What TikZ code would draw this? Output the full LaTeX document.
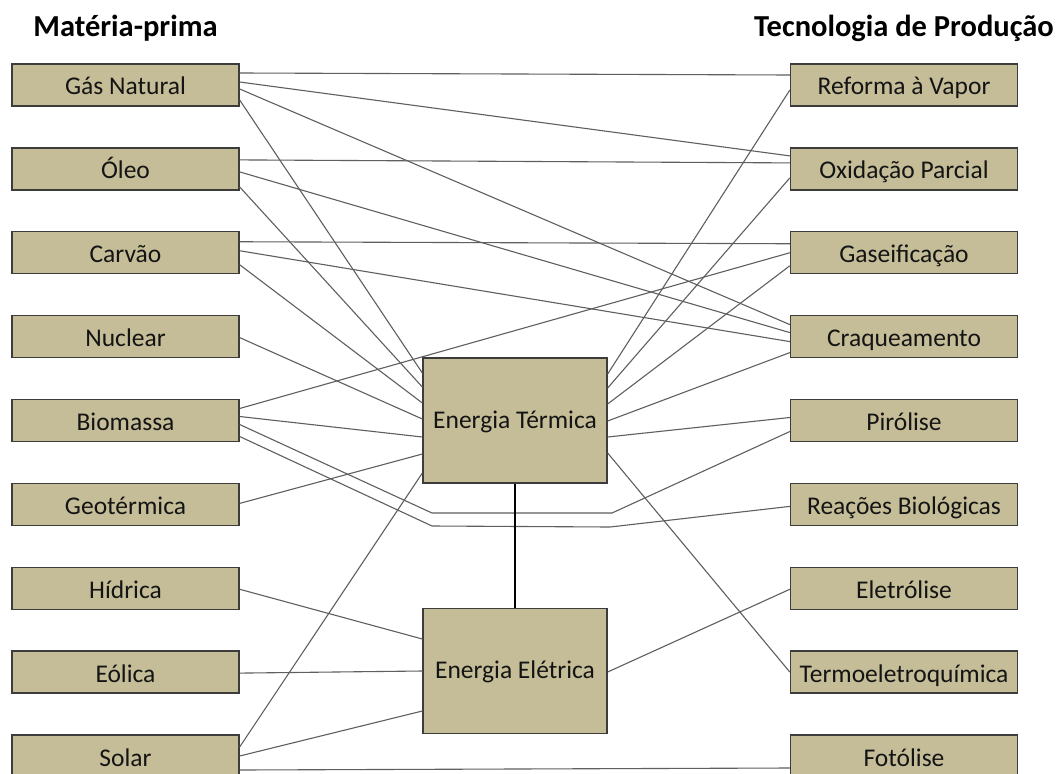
\documentclass[tikz,border=0pt]{standalone}
\usepackage{fontspec}
\setmainfont{Carlito}
\definecolor{boxfill}{RGB}{196,189,151}
\definecolor{boxline}{RGB}{60,60,60}
\definecolor{linec}{RGB}{95,95,95}
\definecolor{txt}{RGB}{20,20,20}
\tikzset{
  box/.style={draw=boxline, fill=boxfill, line width=1.3pt, minimum width=227pt, minimum height=42pt, inner sep=0pt, font=\fontsize{25.5}{28}\selectfont, text=txt, text height=24pt, text depth=4pt},
  bigbox/.style={box, minimum width=184pt, minimum height=125pt, text height=20pt, text depth=5pt},
  conn/.style={draw=linec, line width=1.1pt},
  titletext/.style={font=\bfseries\fontsize{30.5}{33}\selectfont, anchor=base, text=black, inner sep=0pt}
}
\begin{document}
\begin{tikzpicture}[x=1pt,y=-1pt]
\useasboundingbox (0,0) rectangle (1059,773);
\clip (0,0) rectangle (1059,773);
\fill[white] (0,0) rectangle (1059,773);
% titles
\node[titletext] (tl) at (125.5,37) {Matéria-prima};
\node[titletext] (tr) at (904,37) {Tecnologia de Produção};
% left boxes
\node[box] (gas) at (125.5,85) {Gás Natural};
\node[box] (oleo) at (125.5,168.9) {Óleo};
\node[box] (carv) at (125.5,252.75) {Carvão};
\node[box] (nuc) at (125.5,336.6) {Nuclear};
\node[box] (bio) at (125.5,420.5) {Biomassa};
\node[box] (geo) at (125.5,504.4) {Geotérmica};
\node[box] (hid) at (125.5,588.25) {Hídrica};
\node[box] (eol) at (125.5,672.1) {Eólica};
\node[box] (sol) at (125.5,756) {Solar};
% right boxes
\node[box] (ref) at (904,85) {Reforma à Vapor};
\node[box] (oxi) at (904,168.9) {Oxidação Parcial};
\node[box] (gasf) at (904,252.75) {Gaseificação};
\node[box] (craq) at (904,336.6) {Craqueamento};
\node[box] (pir) at (904,420.5) {Pirólise};
\node[box] (reac) at (904,504.4) {Reações Biológicas};
\node[box] (eltr) at (904,588.25) {Eletrólise};
\node[box] (termo) at (904,672.1) {Termoeletroquímica};
\node[box] (foto) at (904,756) {Fotólise};
% centre boxes
\node[bigbox] (term) at (515,420.5) {Energia Térmica};
\node[bigbox] (elet) at (515,671) {Energia Elétrica};
% routing coordinates
\coordinate (p1a) at (432,513);
\coordinate (p1b) at (612,513);
\coordinate (p2a) at (432,526);
\coordinate (p2b) at (610,527);
% Gás Natural
\draw[conn] ([yshift=12pt]gas.east) -- ([yshift=10pt]ref.west);
\draw[conn] ([yshift=3pt]gas.east) -- ([yshift=13pt]oxi.west);
\draw[conn] ([yshift=-4pt]gas.east) -- ([yshift=12pt]craq.west);
\draw[conn] ([yshift=-15pt]gas.east) -- ([yshift=47.5pt]term.west);
% Óleo
\draw[conn] ([yshift=9pt]oleo.east) -- ([yshift=6pt]oxi.west);
\draw[conn] ([yshift=-3pt]oleo.east) -- ([yshift=4pt]craq.west);
\draw[conn] ([yshift=-18pt]oleo.east) -- ([yshift=33.5pt]term.west);
% Carvão
\draw[conn] ([yshift=11pt]carv.east) -- ([yshift=9pt]gasf.west);
\draw[conn] ([yshift=2pt]carv.east) -- ([yshift=-5pt]craq.west);
\draw[conn] ([yshift=-12pt]carv.east) -- ([yshift=17.5pt]term.west);
% Nuclear
\draw[conn] ([yshift=-1pt]nuc.east) -- ([yshift=1.5pt]term.west);
% Biomassa
\draw[conn] ([yshift=12pt]bio.east) -- (gasf.west);
\draw[conn] ([yshift=4pt]bio.east) -- ([yshift=-16.5pt]term.west);
\draw[conn] ([yshift=-4pt]bio.east) -- (p1a) -- (p1b) -- ([yshift=-11pt]pir.west);
\draw[conn] ([yshift=-16pt]bio.east) -- (p2a) -- (p2b) -- ([yshift=-2pt]reac.west);
% Geotérmica
\draw[conn] ([yshift=1pt]geo.east) -- ([yshift=-33.5pt]term.west);
% Hídrica, Eólica
\draw[conn] ([yshift=-1pt]hid.east) -- ([yshift=32pt]elet.west);
\draw[conn] ([yshift=-1pt]eol.east) -- (elet.west);
% Solar
\draw[conn] ([yshift=9pt]sol.east) -- ([yshift=-52.5pt]term.west);
\draw[conn] (sol.east) -- ([yshift=-40pt]elet.west);
\draw[conn] ([yshift=-14pt]sol.east) -- ([yshift=-12pt]foto.west);
% Energia Térmica right side
\draw[conn] ([yshift=46.5pt]term.east) -- ([yshift=-5pt]ref.west);
\draw[conn] ([yshift=32.5pt]term.east) -- ([yshift=-9pt]oxi.west);
\draw[conn] ([yshift=16.5pt]term.east) -- ([yshift=-13pt]gasf.west);
\draw[conn] ([yshift=-0.5pt]term.east) -- ([yshift=-16pt]craq.west);
\draw[conn] ([yshift=-16.5pt]term.east) -- ([yshift=3pt]pir.west);
\draw[conn] ([yshift=-32.5pt]term.east) -- (termo.west);
% Térmica to Elétrica
\draw[conn, draw=black] (term.south) -- (elet.north);
% Elétrica to Eletrólise
\draw[conn] ([yshift=-1pt]elet.east) -- ([yshift=-1pt]eltr.west);
\end{tikzpicture}
\end{document}
